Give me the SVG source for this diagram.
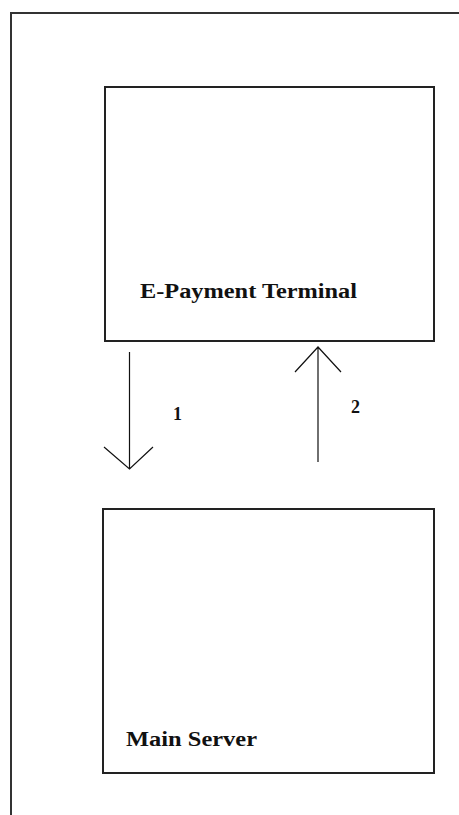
<svg xmlns="http://www.w3.org/2000/svg" width="459" height="815" viewBox="0 0 459 815">
<style>
.frame{fill:none;stroke:#333;stroke-width:2}
.box{fill:none;stroke:#222;stroke-width:2}
.conn{fill:none;stroke:#111;stroke-width:1.2}
.lbl{font-family:"Liberation Serif","DejaVu Serif",serif;font-weight:bold;fill:#111}
</style>
<rect width="459" height="815" fill="#fff"/>
<path class="frame" d="M11,815 V13 H459"/>
<g id="terminal">
<rect class="box" x="105" y="87" width="329" height="254"/>
<text class="lbl" x="140" y="298" font-size="20" textLength="217" lengthAdjust="spacingAndGlyphs">E-Payment Terminal</text>
</g>
<g id="server">
<rect class="box" x="103" y="509" width="331" height="264"/>
<text class="lbl" x="126" y="746" font-size="20" textLength="131" lengthAdjust="spacingAndGlyphs">Main Server</text>
</g>
<g id="connectors">
<path class="conn" d="M129.5,352 V469 M104,447 L129.5,469 L153,447"/>
<path class="conn" d="M318,462 V347 M295,372 L318,347 L341,372"/>
<text class="lbl" x="173" y="420" font-size="18">1</text>
<text class="lbl" x="351" y="413" font-size="18">2</text>
</g>
</svg>
